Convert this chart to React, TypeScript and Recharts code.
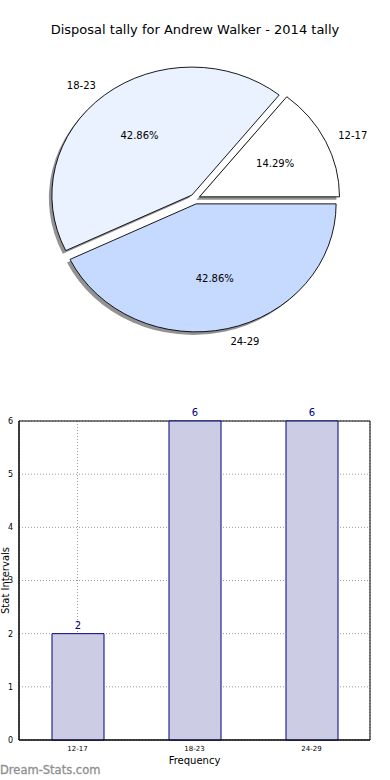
import React from "react";
import {
  Bar,
  BarChart,
  CartesianGrid,
  Cell,
  LabelList,
  Pie,
  PieChart,
  ReferenceArea,
  XAxis,
  YAxis,
} from "recharts";

const categories = ["12-17", "18-23", "24-29"];
const disposals = [2, 6, 6];
const sliceColors = ["#ffffff", "#eaf1ff", "#c6d9ff"];
const yTicks = [0, 1, 2, 3, 4, 5, 6];

const pieData = categories.map((name, i) => ({ name, value: disposals[i] }));
const barData = categories.map((name, i) => ({ name, value: disposals[i] }));

const FONT = "'DejaVu Sans', sans-serif";
const RAD = Math.PI / 180;
const Y_SCALE = 128 / 140; // the pie is drawn squashed, like the original
const EXPLODE = 5;

function sliceShape(props: any, shadow: boolean) {
  const { cx, cy, startAngle, endAngle, outerRadius, fill, name } = props;
  const rx = outerRadius;
  const ry = outerRadius * Y_SCALE;
  const mid = ((startAngle + endAngle) / 2) * RAD;
  let ox = cx + EXPLODE * Math.cos(mid);
  let oy = cy - EXPLODE * Math.sin(mid);
  if (shadow) {
    ox -= 3;
    oy += 3;
  }
  const s = startAngle * RAD;
  const e = endAngle * RAD;
  const x1 = ox + rx * Math.cos(s);
  const y1 = oy - ry * Math.sin(s);
  const x2 = ox + rx * Math.cos(e);
  const y2 = oy - ry * Math.sin(e);
  const large = endAngle - startAngle > 180 ? 1 : 0;
  const d = `M${ox},${oy} L${x1},${y1} A${rx},${ry} 0 ${large} 0 ${x2},${y2} Z`;

  if (shadow) {
    return <path d={d} fill="#6f6f6f" fillOpacity={0.75} stroke="none" />;
  }

  const pct = props.percent ?? (endAngle - startAngle) / 360;
  const cos = Math.cos(mid);
  const sin = Math.sin(mid);
  return (
    <g>
      <path d={d} fill={fill} stroke="#000" strokeWidth={0.9} />
      <text
        x={ox + 0.6 * rx * cos}
        y={oy - 0.6 * ry * sin}
        textAnchor="middle"
        dominantBaseline="central"
        fontSize={10}
        fontFamily={FONT}
        fill="#000"
      >
        {(pct * 100).toFixed(2)}%
      </text>
      <text
        x={ox + 1.1 * rx * cos}
        y={oy - 1.1 * ry * sin}
        textAnchor={cos >= 0 ? "start" : "end"}
        dominantBaseline="central"
        fontSize={10}
        fontFamily={FONT}
        fill="#000"
      >
        {name}
      </text>
    </g>
  );
}

export default function App() {
  return (
    <div style={{ position: "absolute", left: 0, top: 0, width: 390, height: 780, background: "#fff" }}>
      <div
        style={{
          position: "absolute",
          top: 21,
          left: 0,
          width: 390,
          textAlign: "center",
          fontFamily: FONT,
          fontSize: 13,
          lineHeight: "18px",
          color: "#000",
        }}
      >
        Disposal tally for Andrew Walker - 2014 tally
      </div>

      <div style={{ position: "absolute", top: 0, left: 0 }}>
        <PieChart width={390} height={390} margin={{ top: 0, right: 0, bottom: 0, left: 0 }}>
          <Pie
            data={pieData}
            dataKey="value"
            nameKey="name"
            cx={195}
            cy={199}
            outerRadius={140}
            startAngle={0}
            endAngle={360}
            isAnimationActive={false}
            labelLine={false}
            stroke="none"
            shape={(p: any) => sliceShape(p, true)}
            inactiveShape={(p: any) => sliceShape(p, true)}
            activeShape={(p: any) => sliceShape(p, true)}
          >
            {pieData.map((d, i) => (
              <Cell key={d.name} fill={sliceColors[i]} />
            ))}
          </Pie>
          <Pie
            data={pieData}
            dataKey="value"
            nameKey="name"
            cx={195}
            cy={199}
            outerRadius={140}
            startAngle={0}
            endAngle={360}
            isAnimationActive={false}
            labelLine={false}
            shape={(p: any) => sliceShape(p, false)}
            inactiveShape={(p: any) => sliceShape(p, false)}
            activeShape={(p: any) => sliceShape(p, false)}
          >
            {pieData.map((d, i) => (
              <Cell key={d.name} fill={sliceColors[i]} />
            ))}
          </Pie>
        </PieChart>
      </div>

      <div style={{ position: "absolute", top: 400, left: 0 }}>
        <BarChart
          width={390}
          height={380}
          data={barData}
          margin={{ top: 21, right: 20, left: 0, bottom: 0 }}
          barSize={52}
        >
          <XAxis
            dataKey="name"
            height={40}
            tickLine={false}
            tickSize={4}
            axisLine={{ stroke: "#000" }}
            tick={{ fontSize: 7, fontFamily: FONT, fill: "#000" }}
            label={(p: any) => {
              const vb = p.viewBox;
              return (
                <text
                  x={vb.x + vb.width / 2}
                  y={vb.y + 24}
                  textAnchor="middle"
                  fontSize={10}
                  fontFamily={FONT}
                  fill="#000"
                >
                  Frequency
                </text>
              );
            }}
          />
          <YAxis
            domain={[0, 6]}
            ticks={yTicks}
            width={19}
            tickLine={false}
            tickSize={4}
            axisLine={{ stroke: "#000" }}
            tick={{ fontSize: 8, fontFamily: FONT, fill: "#000" }}
            label={(p: any) => {
              const vb = p.viewBox;
              const x = vb.x + 9;
              const y = vb.y + vb.height / 2;
              return (
                <text
                  x={x}
                  y={y}
                  transform={`rotate(-90 ${x} ${y})`}
                  textAnchor="middle"
                  fontSize={10}
                  fontFamily={FONT}
                  fill="#000"
                >
                  Stat Intervals
                </text>
              );
            }}
          />
          <Bar dataKey="value" fill="#ccccE5" stroke="#000080" strokeWidth={1} isAnimationActive={false}>
            <LabelList
              dataKey="value"
              position="top"
              offset={5}
              fill="#000080"
              fontSize={10}
              fontFamily={FONT}
            />
          </Bar>
          <CartesianGrid stroke="#9a9a9a" strokeDasharray="1 2" />
          <ReferenceArea y1={0} y2={6} fill="none" stroke="#000" strokeWidth={1} />
        </BarChart>
      </div>

      <div
        style={{
          position: "absolute",
          left: 0,
          top: 762,
          fontFamily: FONT,
          fontSize: 11.5,
          color: "#8f8f8f",
          lineHeight: "16px",
          WebkitTextStroke: "0.3px #8f8f8f",
        }}
      >
        Dream-Stats.com
      </div>
    </div>
  );
}
